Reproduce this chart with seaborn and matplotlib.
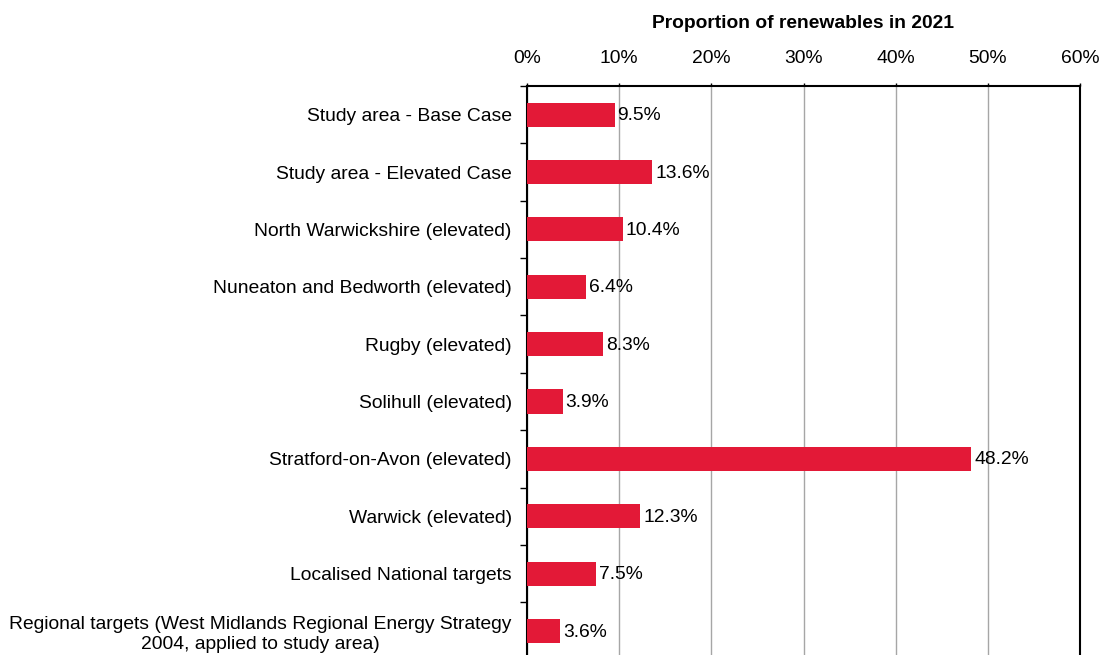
import numpy as np
import pandas as pd
import matplotlib
matplotlib.use("Agg")
import matplotlib.pyplot as plt
import seaborn as sns

areas = ["Study area - Base Case",
         "Study area - Elevated Case",
         "North Warwickshire (elevated)",
         "Nuneaton and Bedworth (elevated)",
         "Rugby (elevated)",
         "Solihull (elevated)",
         "Stratford-on-Avon (elevated)",
         "Warwick (elevated)",
         "Localised National targets",
         "Regional targets (West Midlands Regional Energy Strategy\n2004, applied to study area)"]
share = [9.5, 13.6, 10.4, 6.4, 8.3, 3.9, 48.2, 12.3, 7.5, 3.6]
xticks = [0, 10, 20, 30, 40, 50, 60]

data = pd.DataFrame({"area": areas, "share": share})

sns.set_style("white")
plt.rcParams['font.family'] = ['Liberation Sans', 'DejaVu Sans']
plt.rcParams['text.color'] = 'black'
fs = 13.9

fig = plt.figure(figsize=(10.99, 6.55), dpi=100)
ax = fig.add_axes([527/1099, -4.6/655, 553/1099, 573.6/655])

sns.barplot(data=data, x="share", y="area", orient="h", color="#E31937",
            saturation=1, width=0.42, linewidth=0, ax=ax, zorder=3)

ax.set_xlim(0, 60)
ax.set_ylim(len(areas) - 0.5, -0.5)
ax.xaxis.tick_top()
ax.xaxis.set_label_position("top")
ax.set_xticks(xticks)
ax.set_xticklabels([f"{t}%" for t in xticks], fontsize=fs)
ax.tick_params(axis="x", top=True, direction="out", length=2.5, width=1,
               pad=11, colors="black", labelcolor="black")
ax.set_xlabel("Proportion of renewables in 2021", fontsize=fs, fontweight="bold",
              labelpad=16, color="black")
ax.set_ylabel("")

ax.grid(axis="x", color="#a6a6a6", linewidth=1, zorder=0)
ax.set_axisbelow(True)

ax.set_yticks(range(len(areas)))
ax.set_yticklabels(areas, fontsize=fs, multialignment="center", color="black")
ax.tick_params(axis="y", which="major", left=False, length=0, pad=11)
ax.set_yticks(np.arange(-0.5, len(areas), 1), minor=True)
ax.tick_params(axis="y", which="minor", left=True, direction="out", length=5,
               width=1, color="black")

for s in ["top", "left", "right"]:
    ax.spines[s].set_visible(True)
    ax.spines[s].set_color("black")
    ax.spines[s].set_linewidth(1.5)
ax.spines["bottom"].set_visible(False)

for i, v in enumerate(share):
    ax.text(v + 0.3, i + 0.02, f"{v}%", va="center", ha="left", fontsize=fs, color="black")

fig.savefig("out.png", dpi=100)
